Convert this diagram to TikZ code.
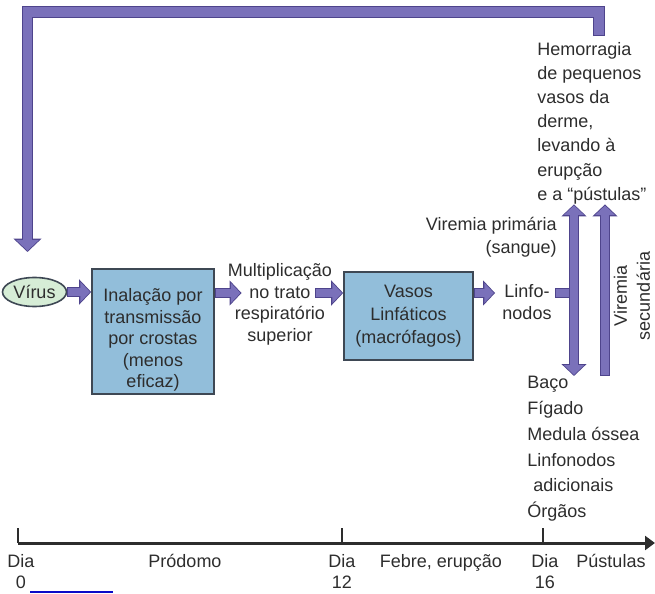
\documentclass[tikz,border=0pt]{standalone}
\usepackage{fontspec}
\setmainfont{Liberation Sans}
\usetikzlibrary{shapes.geometric,arrows.meta,positioning,calc}
\definecolor{arrowfill}{RGB}{122,113,186}
\definecolor{arrowedge}{RGB}{78,68,140}
\definecolor{boxfill}{RGB}{146,190,218}
\definecolor{boxedge}{RGB}{62,72,84}
\definecolor{virusfill}{RGB}{214,237,214}
\definecolor{ink}{RGB}{45,45,45}
\definecolor{linkblue}{RGB}{10,10,200}

\begin{document}
\begin{tikzpicture}[x=0.5pt,y=-0.5pt,
  txt/.style={font=\fontsize{9}{10.8}\selectfont,text=ink,inner sep=0pt,align=center},
  stage/.style={txt,draw=boxedge,line width=0.8pt,fill=boxfill},
  fatw/.style 2 args={draw=arrowfill,line width=#1,line join=miter,
    >={Triangle[length=0pt 1.2,width=0pt 2.45]},
    shorten <=0.5pt,shorten >=0.6pt,
    preaction={draw=arrowedge,line width=#2,shorten <=0pt,shorten >=0pt}},
  fat/.style={fatw={4pt}{5pt}},
  fatbig/.style={fatw={4.6pt}{5.6pt}},
  tick/.style={draw=ink,line width=0.6pt},
  axisline/.style={draw=ink,line width=1.5pt,-{Triangle[length=5pt,width=7pt]}},
  day/.style={txt,font=\fontsize{9}{10.5}\selectfont,below=5.5pt of #1}
]
\useasboundingbox (0,0) rectangle (655,594);

% main row: virus -> inhalation -> multiplication -> lymph vessels -> nodes
\coordinate (row) at (0,293);
\node[txt,draw=boxedge,line width=0.8pt,fill=virusfill,ellipse,
      minimum width=32pt,minimum height=14.5pt] (virus) at (34.5,292) {Vírus};
\node[stage,minimum width=61pt,minimum height=62.5pt] (inal) at (153,331.5)
  {\rule{0pt}{15pt}Inalação por\\transmissão\\por crostas\\(menos\\eficaz)};
\node[txt] (mult) at (280,304.5) {Multiplicação\\no trato\\respiratório\\superior};
\node[stage,font=\fontsize{9}{11.5}\selectfont,minimum width=64.5pt,minimum height=44pt]
  (vasos) at (408.5,316) {Vasos\\Linfáticos\\(macrófagos)};
\node[txt] (linfo) at (527,302) {Linfo-\\nodos};

\draw[fat,->] (virus.east) -- (virus.east -| inal.west);
\draw[fat,->] (inal.east |- row) -- ($(mult.west |- row)+(14,0)$);
\draw[fat,->] ($(mult.east |- row)+(-17,0)$) -- (vasos.west |- row);
\draw[fat,->] (vasos.east |- row) -- ($(linfo.west |- row)+(-7,0)$);

% right column: skin lesions above, organs below
\node[txt,align=left,anchor=west,font=\fontsize{9}{12.1}\selectfont] (hemo) at (537,123)
  {Hemorragia\\de pequenos\\vasos da\\derme,\\levando à\\erupção\\e a “pústulas”};
\node[txt,align=left,anchor=north west,font=\fontsize{9}{12.9}\selectfont] (organs) at (527,376)
  {Baço\\Fígado\\Medula óssea\\Linfonodos\\\hspace*{3pt}adicionais\\Órgãos};
\node[txt,align=right,anchor=east,font=\fontsize{9}{11.5}\selectfont] (vprim) at (557,237.5)
  {Viremia primária\\(sangue)};
\node[txt,rotate=90,font=\fontsize{9}{11.5}\selectfont] (vsec) at (632,296)
  {Viremia\\secundária};

% viremia arrows
\coordinate (px) at (574,0);
\coordinate (sx) at (605,0);
\coordinate (stub) at (555,293);
\draw[fat] (stub) -- (stub -| px);
\draw[fat,<->] (hemo.south -| px) -- (organs.north -| px);
\draw[fat,->] (organs.north -| sx) -- (hemo.south -| sx);

% return loop back to the start
\coordinate (loopstart) at (599,36);
\coordinate (toprow) at (0,12);
\coordinate (reentry) at (27.5,252);
\draw[fatbig,->] (loopstart) |- (toprow -| reentry) -- (reentry);

% time axis
\coordinate (d0) at (18,543);
\coordinate (d12) at (342,543);
\coordinate (d16) at (543,543);
\coordinate (tend) at (655,543);
\draw[axisline] (d0) -- (tend);
\foreach \t in {d0,d12,d16}
  \draw[tick] (\t) -- ++(0,-15);
\node[day=d0,xshift=1.5pt] (l0) {Dia\\0};
\node[day=d12] (l12) {Dia\\12};
\node[day=d16,xshift=1pt] (l16) {Dia\\16};
\node[txt,anchor=base] (prod) at (185,567) {Pródomo};
\node[txt,anchor=base] (febre) at (441,567) {Febre, erupção};
\node[txt,anchor=base] (pust) at (611,567) {Pústulas};
\draw[linkblue,line width=0.9pt] (30,592) -- (113,592);
\end{tikzpicture}
\end{document}
